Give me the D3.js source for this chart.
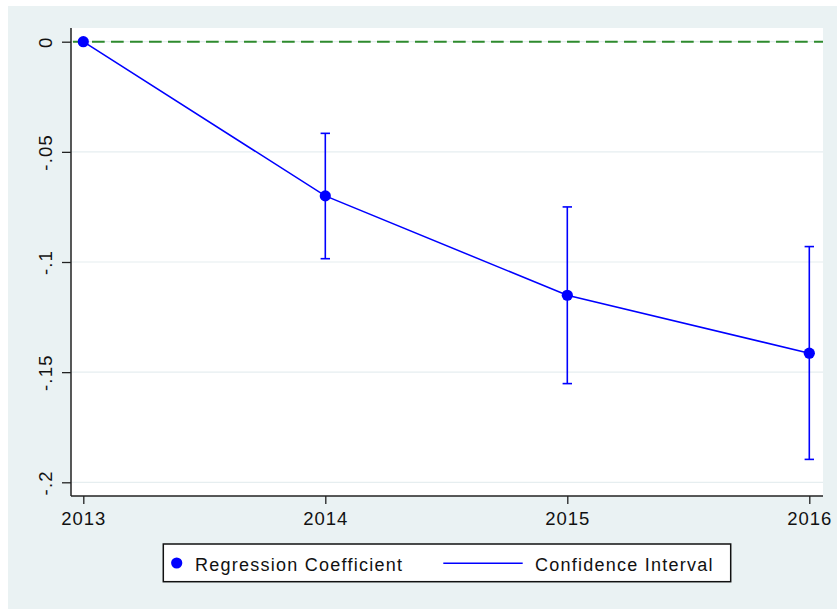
<!DOCTYPE html>
<html>
<head>
<meta charset="utf-8">
<script src="https://cdn.jsdelivr.net/npm/d3@7"></script>
<style>
  html, body { margin: 0; padding: 0; background: #ffffff; }
  svg { display: block; }
  text { font-family: "Liberation Sans", Arial, Helvetica, sans-serif; fill: #111; }
</style>
</head>
<body>
<svg id="chart" width="837" height="610"></svg>
<script>
// Event-study estimates by year (2013 is the reference year)
const years = [2013, 2014, 2015, 2016];
const coef = [0, -0.0700, -0.1151, -0.1414];
const ciLow = [null, -0.0985, -0.1552, -0.1896];
const ciHigh = [null, -0.0416, -0.0750, -0.0930];

const yTicks = [0, -0.05, -0.1, -0.15, -0.2];
const yTickLabels = ["0", "-.05", "-.1", "-.15", "-.2"];
const xTickLabels = ["2013", "2014", "2015", "2016"];
const legendLabels = ["Regression Coefficient", "Confidence Interval"];

const svg = d3.select("#chart");

// Graph region background
svg.append("rect")
  .attr("x", 8).attr("y", 6).attr("width", 829).attr("height", 603)
  .attr("fill", "#eaf2f3");

// Plot region
const plot = { left: 71, right: 823, top: 28, bottom: 496 };
svg.append("rect")
  .attr("x", plot.left).attr("y", plot.top)
  .attr("width", plot.right - plot.left).attr("height", plot.bottom - plot.top)
  .attr("fill", "#ffffff");

const x = d3.scaleLinear().domain([2013, 2016]).range([83.3, 809.3]);
const y = d3.scaleLinear().domain([-0.2, 0]).range([482.3, 41.7]);

// Horizontal gridlines
svg.append("g")
  .selectAll("line")
  .data(yTicks)
  .join("line")
  .attr("x1", plot.left).attr("x2", plot.right)
  .attr("y1", d => y(d)).attr("y2", d => y(d))
  .attr("stroke", "#e6eef0")
  .attr("stroke-width", 1.2);

// Zero reference line
svg.append("line")
  .attr("x1", plot.left).attr("x2", plot.right)
  .attr("y1", y(0)).attr("y2", y(0))
  .attr("stroke", "#2e8b2e")
  .attr("stroke-width", 2)
  .attr("stroke-dasharray", "12.7 6.3")
  .attr("stroke-dashoffset", -2);

// Y axis
const yAxis = d3.axisLeft(y)
  .tickValues(yTicks)
  .tickFormat((d, i) => yTickLabels[i])
  .tickSize(9)
  .tickPadding(0);
const gy = svg.append("g")
  .attr("transform", `translate(${plot.left},0)`)
  .call(yAxis);
gy.select(".domain").remove();
gy.selectAll(".tick line").attr("stroke", "#222").attr("stroke-width", 1.3);
gy.selectAll(".tick text")
  .attr("x", null).attr("dy", null)
  .attr("text-anchor", "middle")
  .attr("transform", "translate(-19.5,0) rotate(-90)")
  .attr("font-size", 18.5)
  .attr("letter-spacing", 1.2)
  .attr("fill", "#111");
svg.append("line")
  .attr("x1", plot.left).attr("x2", plot.left)
  .attr("y1", plot.top).attr("y2", plot.bottom)
  .attr("stroke", "#222").attr("stroke-width", 1.5);

// X axis
const xAxis = d3.axisBottom(x)
  .tickValues(years)
  .tickFormat((d, i) => xTickLabels[i])
  .tickSize(8)
  .tickPadding(8);
const gx = svg.append("g")
  .attr("transform", `translate(0,${plot.bottom})`)
  .call(xAxis);
gx.select(".domain").remove();
gx.selectAll(".tick line").attr("stroke", "#222").attr("stroke-width", 1.3);
gx.selectAll(".tick text")
  .attr("y", 29).attr("dy", null)
  .attr("font-size", 18.5)
  .attr("letter-spacing", 1)
  .attr("fill", "#111");
svg.append("line")
  .attr("x1", plot.left).attr("x2", plot.right)
  .attr("y1", plot.bottom).attr("y2", plot.bottom)
  .attr("stroke", "#222").attr("stroke-width", 1.5);

const blue = "#0000ff";
const pts = years.map((yr, i) => ({ yr, b: coef[i], lo: ciLow[i], hi: ciHigh[i] }));

// Coefficient path
svg.append("path")
  .datum(pts)
  .attr("fill", "none")
  .attr("stroke", blue)
  .attr("stroke-width", 1.5)
  .attr("d", d3.line().x(d => x(d.yr)).y(d => y(d.b)));

// Confidence intervals
const ci = svg.append("g")
  .selectAll("g")
  .data(pts.filter(d => d.lo !== null))
  .join("g")
  .attr("stroke", blue)
  .attr("stroke-width", 1.6);
ci.append("line")
  .attr("x1", d => x(d.yr)).attr("x2", d => x(d.yr))
  .attr("y1", d => y(d.lo)).attr("y2", d => y(d.hi));
ci.append("line")
  .attr("x1", d => x(d.yr) - 4.7).attr("x2", d => x(d.yr) + 4.7)
  .attr("y1", d => y(d.lo)).attr("y2", d => y(d.lo));
ci.append("line")
  .attr("x1", d => x(d.yr) - 4.7).attr("x2", d => x(d.yr) + 4.7)
  .attr("y1", d => y(d.hi)).attr("y2", d => y(d.hi));

// Coefficient markers
svg.append("g")
  .selectAll("circle")
  .data(pts)
  .join("circle")
  .attr("cx", d => x(d.yr)).attr("cy", d => y(d.b))
  .attr("r", 5.6)
  .attr("fill", blue);

// Legend
const legend = svg.append("g");
legend.append("rect")
  .attr("x", 163.3).attr("y", 544)
  .attr("width", 567.4).attr("height", 37.7)
  .attr("fill", "#ffffff")
  .attr("stroke", "#111").attr("stroke-width", 1.5);
legend.append("circle")
  .attr("cx", 176.7).attr("cy", 563).attr("r", 5.6).attr("fill", blue);
legend.append("text")
  .attr("x", 195).attr("y", 570.7)
  .attr("font-size", 18)
  .attr("letter-spacing", 1.25)
  .text(legendLabels[0]);
legend.append("line")
  .attr("x1", 443.3).attr("x2", 522.7)
  .attr("y1", 563.3).attr("y2", 563.3)
  .attr("stroke", blue).attr("stroke-width", 1.5);
legend.append("text")
  .attr("x", 535).attr("y", 570.7)
  .attr("font-size", 18)
  .attr("letter-spacing", 1.25)
  .text(legendLabels[1]);
</script>
</body>
</html>
